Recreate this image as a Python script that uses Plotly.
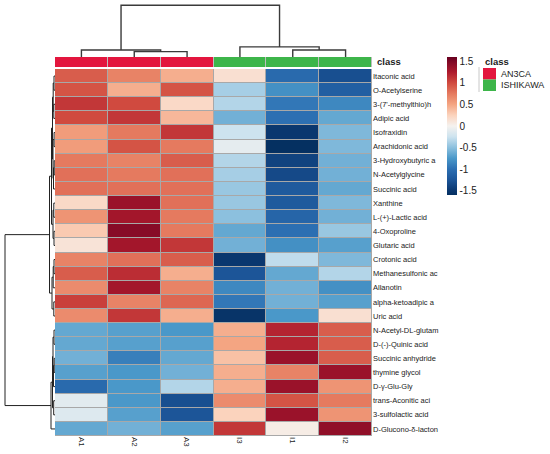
import plotly.graph_objects as go

# column and row labels (in plotted order)
samples = ["A1", "A2", "A3", "I3", "I1", "I2"]
sample_class = ["AN3CA", "AN3CA", "AN3CA", "ISHIKAWA", "ISHIKAWA", "ISHIKAWA"]
class_names = ["AN3CA", "ISHIKAWA"]
class_colors = ["#E3163E", "#3DB54A"]

metabolites = [
    "Itaconic acid", "O-Acetylserine", "3-(7'-methylthio)h", "Adipic acid",
    "Isofraxidin", "Arachidonic acid", "3-Hydroxybutyric a", "N-Acetylglycine",
    "Succinic acid", "Xanthine", "L-(+)-Lactic acid", "4-Oxoproline",
    "Glutaric acid", "Crotonic acid", "Methanesulfonic ac", "Allanotin",
    "alpha-ketoadipic a", "Uric acid", "N-Acetyl-DL-glutam", "D-(-)-Quinic acid",
    "Succinic anhydride", "thymine glycol", "D-γ-Glu-Gly", "trans-Aconitic aci",
    "3-sulfolactic acid", "D-Glucono-δ-lacton",
]

# scaled abundance, one list per metabolite (A1, A2, A3, I3, I1, I2)
values = [
    [0.90, 0.70, 0.45, 0.15, -1.05, -1.30],
    [0.95, 0.45, 0.95, -0.40, -0.80, -1.15],
    [1.10, 1.00, 0.20, -0.35, -0.95, -0.85],
    [1.00, 1.10, 0.40, -0.60, -1.00, -0.65],
    [0.55, 0.75, 1.10, -0.25, -1.50, -0.55],
    [0.55, 0.95, 0.75, -0.10, -1.60, -0.55],
    [0.75, 0.70, 0.90, -0.35, -1.40, -0.60],
    [0.80, 0.75, 0.80, -0.40, -1.35, -0.60],
    [0.80, 0.80, 0.80, -0.45, -1.20, -0.65],
    [0.20, 1.35, 0.80, -0.45, -1.20, -0.55],
    [0.60, 1.30, 0.75, -0.50, -1.10, -0.60],
    [0.30, 1.45, 0.75, -0.65, -1.00, -0.45],
    [0.12, 1.30, 1.10, -0.60, -0.80, -0.70],
    [0.70, 0.80, 0.90, -1.50, -0.30, -0.55],
    [0.90, 1.15, 0.45, -1.25, -0.65, -0.35],
    [0.65, 1.30, 0.70, -0.85, -0.60, -0.80],
    [1.05, 0.70, 0.85, -0.95, -0.60, -0.70],
    [0.65, 1.10, 0.45, -1.55, -0.75, 0.15],
    [-0.65, -0.70, -0.75, 0.45, 1.20, 0.90],
    [-0.65, -0.70, -0.70, 0.50, 1.20, 0.90],
    [-0.60, -0.90, -0.65, 0.35, 1.35, 0.90],
    [-0.70, -0.75, -0.60, 0.45, 0.70, 1.35],
    [-1.05, -0.75, -0.35, 0.45, 1.35, 0.60],
    [-0.12, -0.75, -1.30, 0.65, 0.95, 0.75],
    [-0.15, -0.70, -1.25, 0.25, 1.35, 0.60],
    [-0.65, -0.60, -0.70, 1.10, 0.05, 1.40],
]

# cluster trees: (height, left, right), leaves are positions in plotted order
col_tree = (51.3, (7.0, 0, (5.3, 1, 2)), (10.0, 3, (7.0, 4, 5)))
row_tree = (
    50,
    (5.5,
     (3.5,
      (2.5, (1.8, (1.0, 0, 1), (1.2, 2, 3)), (2.0, (0.9, 4, 5), (1.5, (0.8, 6, 7), 8))),
      (2.0, (1.2, 9, 10), (1.0, 11, 12))),
     (3.0, (1.8, (1.0, 13, 14), 15), (1.2, 16, 17))),
    (4.0,
     (2.5, (2.0, (1.0, 18, 19), (1.5, (0.8, 20, 21), 22)), (1.3, 23, 24)),
     25),
)

cbar_ticks = [-1.5, -1, -0.5, 0, 0.5, 1, 1.5]


def dendro_lines(node, pos, hgt):
    # returns (position, height) of the node, appends U-shaped links
    if isinstance(node, int):
        return node, 0.0
    h, left, right = node
    p1, h1 = dendro_lines(left, pos, hgt)
    p2, h2 = dendro_lines(right, pos, hgt)
    pos += [p1, p1, p2, p2, None]
    hgt += [h1, h, h, h2, None]
    return (p1 + p2) / 2, h


cp, ch = [], []
dendro_lines(col_tree, cp, ch)
rp, rh = [], []
dendro_lines(row_tree, rp, rh)

W, H = 550, 454
font = "Liberation Sans, Arial, sans-serif"
zmin, zmax = -1.6, 1.6

# colour ramp
ramp_vals = [-1.6, -1.5, -1.25, -1.0, -0.75, -0.5, -0.25, 0.0, 0.25, 0.5, 0.75, 1.0, 1.25, 1.5, 1.6]
ramp_cols = ["#053061", "#0a376f", "#1c5598", "#2c6fb2", "#4a98c9", "#8cc0de", "#cde3ef",
             "#f5f2ef", "#fbd3bd", "#f4a582", "#e57a5f", "#d04a3f", "#ad1a2d", "#7d0725", "#67001f"]
colorscale = [[(v - zmin) / (zmax - zmin), c] for v, c in zip(ramp_vals, ramp_cols)]

fig = go.Figure()

fig.add_trace(go.Heatmap(
    z=values, x=list(range(len(samples))), y=list(range(len(metabolites))),
    colorscale=colorscale, zmin=zmin, zmax=zmax, xgap=1, ygap=1,
    colorbar=dict(
        x=447 / W, xanchor="left", y=1 - 57 / H, yanchor="top",
        len=138 / H, lenmode="fraction", thickness=10, xpad=0, ypad=0,
        outlinewidth=0, tickvals=cbar_ticks, ticktext=[f"{t:g}" for t in cbar_ticks],
        ticks="", tickfont=dict(size=10, color="#222", family=font),
    ),
    hovertemplate="%{z}<extra></extra>",
))

class_idx = [class_names.index(c) for c in sample_class]
fig.add_trace(go.Heatmap(
    z=[class_idx], x=list(range(len(samples))), y=[0],
    xaxis="x", yaxis="y2", showscale=False, xgap=1, ygap=0,
    colorscale=[[0, class_colors[0]], [0.5, class_colors[0]],
                [0.5, class_colors[1]], [1, class_colors[1]]],
    zmin=0, zmax=1, hoverinfo="skip",
))

fig.add_trace(go.Scatter(
    x=cp, y=ch, xaxis="x", yaxis="y3", mode="lines",
    line=dict(color="#3a3a3a", width=1.4), hoverinfo="skip", showlegend=False,
))
fig.add_trace(go.Scatter(
    x=rh, y=rp, xaxis="x2", yaxis="y", mode="lines",
    line=dict(color="#222", width=1), hoverinfo="skip", showlegend=False,
))

# grey cell borders: a grey panel under each heatmap shows through the gaps
shapes = [
    dict(type="rect", xref="x domain", yref="y domain", x0=0, x1=1, y0=0, y1=1,
         fillcolor="#a8a8a8", line=dict(width=0), layer="below"),
    dict(type="rect", xref="x domain", yref="y2 domain", x0=0, x1=1, y0=0, y1=1,
         fillcolor="#bdbdbd", line=dict(width=0), layer="below"),
    dict(type="line", xref="paper", yref="paper",
         x0=479 / W, x1=479 / W, y0=1 - 67 / H, y1=1 - 92 / H,
         line=dict(color="#c8c8c8", width=1)),
]
annotations = [
    dict(text="<b>class</b>", x=375 / W, y=1 - 62 / H, xref="paper", yref="paper",
         xanchor="left", yanchor="middle", showarrow=False,
         font=dict(size=9.5, color="#222", family=font)),
    dict(text="<b>class</b>", x=483 / W, y=1 - 62 / H, xref="paper", yref="paper",
         xanchor="left", yanchor="middle", showarrow=False,
         font=dict(size=9.5, color="#222", family=font)),
]
for i, (name, col) in enumerate(zip(class_names, class_colors)):
    top = 68 + i * 11.5
    shapes.append(dict(type="rect", xref="paper", yref="paper",
                       x0=483 / W, x1=496 / W, y0=1 - top / H, y1=1 - (top + 11.5) / H,
                       fillcolor=col, line=dict(width=0)))
    annotations.append(dict(text=name, x=499 / W, y=1 - (top + 5.75) / H,
                            xref="paper", yref="paper", xanchor="left", yanchor="middle",
                            showarrow=False, font=dict(size=9, color="#222", family=font)))

fig.update_layout(
    width=W, height=H, margin=dict(l=0, r=0, t=0, b=0),
    paper_bgcolor="white", plot_bgcolor="white",
    font=dict(family=font, color="#222"),
    showlegend=False,
    xaxis=dict(domain=[55 / W, 372 / W], range=[-0.5, 5.5], anchor="y",
               tickvals=list(range(len(samples))), ticktext=samples, tickangle=90,
               tickfont=dict(size=8), ticks="", showgrid=False, zeroline=False),
    yaxis=dict(domain=[1 - 436 / H, 1 - 69 / H], range=[len(metabolites) - 0.5, -0.5],
               anchor="x", side="right", tickvals=list(range(len(metabolites))),
               ticktext=metabolites, tickfont=dict(size=7.5), ticks="",
               showgrid=False, zeroline=False),
    yaxis2=dict(domain=[1 - 67 / H, 1 - 57 / H], range=[-0.5, 0.5], anchor="x",
                showticklabels=False, showgrid=False, zeroline=False, ticks=""),
    yaxis3=dict(domain=[1 - 57 / H, 1 - 4 / H], range=[0, 52.5], anchor="x",
                visible=False),
    xaxis2=dict(domain=[0, 55 / W], range=[55, 0], anchor="y", visible=False),
    shapes=shapes, annotations=annotations,
)

fig.write_html("out.html", config={"displayModeBar": False},
               post_script="document.body.style.margin='0';")
